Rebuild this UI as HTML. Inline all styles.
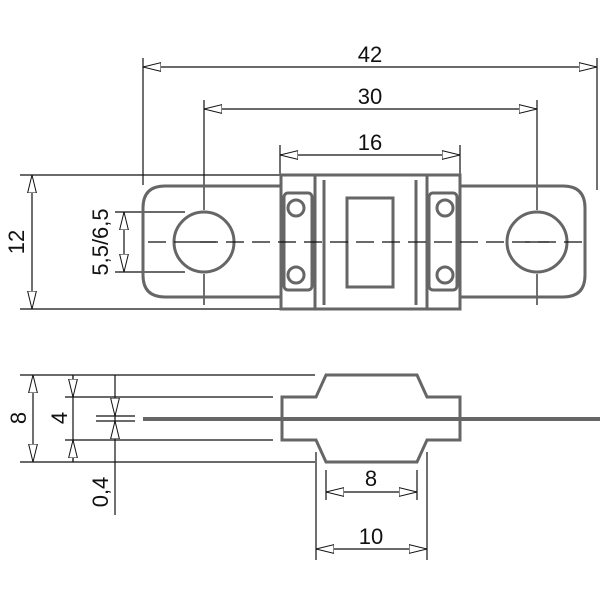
<!DOCTYPE html><html><head><style>body{margin:0;background:#fff}svg{display:block}text{font-family:"Liberation Sans",sans-serif;font-size:22px;fill:#111}</style></head><body>
<svg width="600" height="600" viewBox="0 0 600 600">
<defs><marker id="a" viewBox="0 0 18 10" refX="18" refY="5" markerWidth="18" markerHeight="10" orient="auto-start-reverse" markerUnits="userSpaceOnUse"><path d="M0,0.6 L18,5 L0,9.4 Z" fill="#fff" stroke="#111" stroke-width="1"/></marker></defs>
<g stroke="#111" stroke-width="1.2" fill="none">
<line x1="143" y1="58" x2="143" y2="185"/><line x1="597" y1="58" x2="597" y2="190"/>
<line x1="204" y1="100" x2="204" y2="210"/><line x1="537" y1="100" x2="537" y2="210"/>
<line x1="280" y1="145" x2="280" y2="175"/><line x1="460" y1="145" x2="460" y2="175"/>
<line x1="20" y1="175" x2="280" y2="175"/><line x1="20" y1="309" x2="280" y2="309"/>
<line x1="115" y1="212" x2="185" y2="212"/><line x1="115" y1="272" x2="185" y2="272"/>
<line x1="143" y1="67" x2="597" y2="67" marker-start="url(#a)" marker-end="url(#a)"/>
<line x1="204" y1="109" x2="537" y2="109" marker-start="url(#a)" marker-end="url(#a)"/>
<line x1="280" y1="155" x2="460" y2="155" marker-start="url(#a)" marker-end="url(#a)"/>
<line x1="32" y1="175" x2="32" y2="309" marker-start="url(#a)" marker-end="url(#a)"/>
<line x1="124" y1="212" x2="124" y2="272" marker-start="url(#a)" marker-end="url(#a)"/>
<line x1="204" y1="274" x2="204" y2="305"/><line x1="537" y1="274" x2="537" y2="305"/>
</g>
<g stroke="#666" stroke-width="3" fill="none">
<path d="M281,186 H165 Q143,186 143,208 V275 Q143,297 165,297 H281"/>
<path d="M460,186 H563 Q585,186 585,208 V275 Q585,297 563,297 H460"/>
<rect x="281" y="175" width="179" height="134"/>
<line x1="315" y1="175" x2="315" y2="309"/><line x1="427" y1="175" x2="427" y2="309"/>
<line x1="324" y1="180" x2="324" y2="305"/><line x1="416" y1="180" x2="416" y2="305"/>
<rect x="347" y="198" width="46" height="89"/>
<rect x="284" y="193" width="28" height="97" rx="4"/><rect x="429" y="193" width="28" height="97" rx="4"/>
<circle cx="296" cy="208" r="8"/><circle cx="296" cy="275" r="8"/>
<circle cx="445" cy="208" r="8"/><circle cx="445" cy="275" r="8"/>
<circle cx="204" cy="242" r="30"/><circle cx="537" cy="242" r="30"/>
</g>
<g stroke="#111" stroke-width="1.2" fill="none">
<line x1="148" y1="242" x2="590" y2="242" stroke-dasharray="18,8"/>
<line x1="192" y1="242" x2="216" y2="242"/><line x1="525" y1="242" x2="549" y2="242"/>
</g>
<text x="370" y="62" text-anchor="middle">42</text>
<text x="370" y="104" text-anchor="middle">30</text>
<text x="370" y="150" text-anchor="middle">16</text>
<text transform="translate(24,242) rotate(-90)" text-anchor="middle">12</text>
<text transform="translate(108,242) rotate(-90)" text-anchor="middle">5,5/6,5</text>
<g stroke="#111" stroke-width="1.2" fill="none">
<line x1="20" y1="375" x2="315" y2="375"/><line x1="20" y1="462" x2="315" y2="462"/>
<line x1="65" y1="397" x2="273" y2="397"/><line x1="65" y1="440" x2="273" y2="440"/>
<line x1="33" y1="375" x2="33" y2="462" marker-start="url(#a)" marker-end="url(#a)"/>
<line x1="73" y1="375" x2="73" y2="462"/>
<line x1="73" y1="375" x2="73" y2="397" marker-end="url(#a)"/>
<line x1="73" y1="462" x2="73" y2="440" marker-end="url(#a)"/>
<line x1="115" y1="375" x2="115" y2="515"/>
<line x1="115" y1="398" x2="115" y2="416" marker-end="url(#a)"/>
<line x1="115" y1="439" x2="115" y2="421" marker-end="url(#a)"/>
<line x1="96" y1="416" x2="135" y2="416"/><line x1="96" y1="421" x2="135" y2="421"/>
<line x1="326" y1="470" x2="326" y2="500"/><line x1="417" y1="470" x2="417" y2="500"/>
<line x1="316" y1="452" x2="316" y2="560"/><line x1="427" y1="452" x2="427" y2="560"/>
<line x1="326" y1="492" x2="417" y2="492" marker-start="url(#a)" marker-end="url(#a)"/>
<line x1="316" y1="549" x2="427" y2="549" marker-start="url(#a)" marker-end="url(#a)"/>
</g>
<g stroke="#666" stroke-width="3" fill="none">
<line x1="143" y1="419" x2="600" y2="419" stroke-width="4"/>
<path d="M282,397 H316 L326,375 H417 L427,397 H460 V440 H427 L417,462 H326 L316,440 H282 Z"/>
</g>
<text transform="translate(26,418) rotate(-90)" text-anchor="middle">8</text>
<text transform="translate(67,418) rotate(-90)" text-anchor="middle">4</text>
<text transform="translate(108,492) rotate(-90)" text-anchor="middle">0,4</text>
<text x="371" y="486" text-anchor="middle">8</text>
<text x="371" y="544" text-anchor="middle">10</text>
</svg></body></html>
